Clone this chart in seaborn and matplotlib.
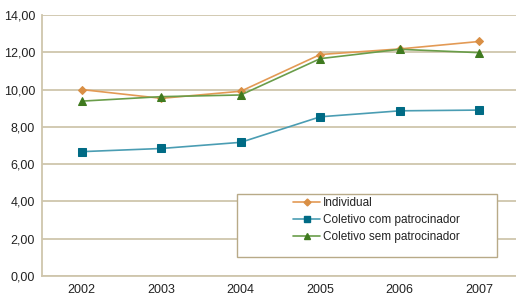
import matplotlib
matplotlib.use("Agg")
import matplotlib.pyplot as plt
import seaborn as sns
import pandas as pd
from matplotlib.patches import Rectangle

years = ["2002", "2003", "2004", "2005", "2006", "2007"]
individual = [10.00, 9.53, 9.91, 11.88, 12.18, 12.58]
coletivo_com = [6.67, 6.84, 7.17, 8.54, 8.86, 8.90]
coletivo_sem = [9.38, 9.62, 9.71, 11.66, 12.16, 11.98]
series_names = ["Individual", "Coletivo com patrocinador", "Coletivo sem patrocinador"]
yticks = [0, 2, 4, 6, 8, 10, 12, 14]

rows = []
for name, vals in zip(series_names, [individual, coletivo_com, coletivo_sem]):
    for i, (y, v) in enumerate(zip(years, vals)):
        rows.append({"pos": i, "year": y, "value": v, "serie": name})
df = pd.DataFrame(rows)

sns.set_theme(style="white")
plt.rcParams["font.family"] = ["Liberation Sans", "DejaVu Sans"]

fig = plt.figure(figsize=(5.16, 2.96), dpi=100)
ax = fig.add_axes([42 / 516, 20 / 296, 477 / 516, 261 / 296])

tan = "#cfc6ad"
line_colors = {"Individual": "#e39a55", "Coletivo com patrocinador": "#4a9db3",
               "Coletivo sem patrocinador": "#6a9d4a"}
marker_colors = {"Individual": "#d98f45", "Coletivo com patrocinador": "#006b85",
                 "Coletivo sem patrocinador": "#3f7a1f"}
markers = {"Individual": "D", "Coletivo com patrocinador": "s", "Coletivo sem patrocinador": "^"}
msizes = {"Individual": 4, "Coletivo com patrocinador": 5.8, "Coletivo sem patrocinador": 6}
lsizes = {"Individual": 3.5, "Coletivo com patrocinador": 4.5, "Coletivo sem patrocinador": 5}

for y in yticks:
    ax.axhline(y, color=tan, lw=1.3, zorder=0)

handles = []
for name in series_names:
    sub = df[df["serie"] == name]
    sns.lineplot(data=sub, x="pos", y="value", ax=ax, color=line_colors[name], lw=1.2,
                 marker=markers[name], markersize=msizes[name],
                 markerfacecolor=marker_colors[name], markeredgecolor=marker_colors[name],
                 legend=False, zorder=3)
    h, = ax.plot([], [], color=line_colors[name], lw=1.2, marker=markers[name],
                 markersize=lsizes[name], markerfacecolor=marker_colors[name],
                 markeredgecolor=marker_colors[name])
    handles.append(h)

ax.set_xlim(-0.5, 5.5)
ax.set_ylim(0, 14)
ax.set_yticks(yticks)
ax.set_yticklabels([f"{v:.2f}".replace(".", ",") for v in yticks])
ax.set_xticks(range(len(years)))
ax.set_xticklabels(years)
ax.set_xticks([i - 0.5 for i in range(len(years) + 1)], minor=True)
ax.tick_params(axis="x", which="major", length=0, labelsize=9, colors="#222222", pad=6)
ax.tick_params(axis="x", which="minor", length=4, color=tan, width=1.2, direction="out")
ax.tick_params(axis="y", length=4, color=tan, width=1.2, labelsize=9, colors="#222222", pad=1)
ax.set_xlabel("")
ax.set_ylabel("")
for s in ["top", "right"]:
    ax.spines[s].set_visible(False)
for s in ["left", "bottom"]:
    ax.spines[s].set_color(tan)
    ax.spines[s].set_linewidth(1.3)
ax.set_facecolor("white")

# legend box
fig.patches.append(Rectangle((237 / 516, 1 - 257 / 296), 260 / 516, 63 / 296,
                             transform=fig.transFigure, fill=True, facecolor="white",
                             edgecolor="#b8aa88", lw=1.0, zorder=5))
leg = fig.legend(handles, series_names, loc="upper left",
                 bbox_to_anchor=(292 / 516, 1 - 196 / 296), frameon=False,
                 fontsize=8.5, handlelength=2.3, handletextpad=0.25, labelspacing=0.42,
                 borderaxespad=0, borderpad=0.1)
leg.set_zorder(6)
for t in leg.get_texts():
    t.set_color("#222222")

fig.savefig("out.png", dpi=100)
